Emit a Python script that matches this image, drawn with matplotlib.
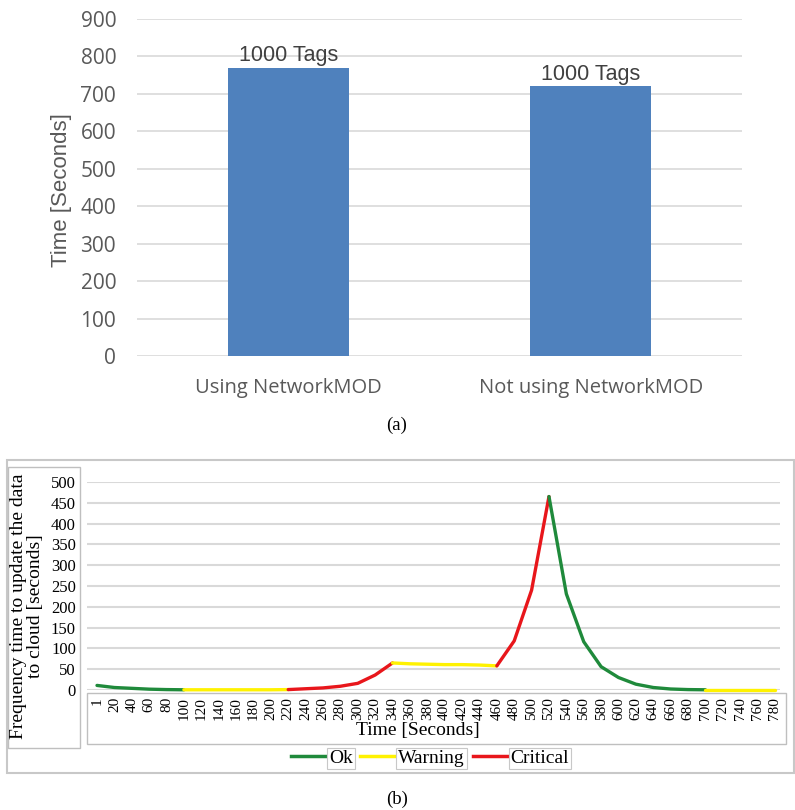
import matplotlib
matplotlib.use("Agg")
import matplotlib.pyplot as plt
from matplotlib.patches import Rectangle
from matplotlib.lines import Line2D

# (a) upload time for 1000 tags
bar_cats = ["Using NetworkMOD", "Not using NetworkMOD"]
bar_times = [770, 720]
bar_notes = ["1000 Tags", "1000 Tags"]

# (b) frequency time to update the data to cloud
seconds = [1, 20, 40, 60, 80, 100, 120, 140, 160, 180, 200, 220, 240, 260,
           280, 300, 320, 340, 360, 380, 400, 420, 440, 460, 480, 500, 520,
           540, 560, 580, 600, 620, 640, 660, 680, 700, 720, 740, 760, 780]
freq = [11, 6, 4, 2, 1, 0.5, 0.5, 0.5, 0.5, 0.5, 0.5, 1, 3, 5,
        9, 16, 36, 65, 63, 62, 61, 61, 60, 58, 118, 240, 465,
        231, 116, 56, 30, 14, 6, 2.4, 1, 0.5, 0.5, 0.5, 0.5, 0.5]

# status runs along the curve (start / end in seconds)
run_status = ["Ok", "Warning", "Critical", "Warning", "Critical", "Ok", "Warning"]
run_start = [1, 100, 220, 340, 460, 520, 700]
run_end = [100, 220, 340, 460, 520, 700, 780]
status_colors = {"Ok": "#1f8a3b", "Warning": "#fff200", "Critical": "#e8161b"}

W, H = 795, 810
SERIF = ["Liberation Serif", "DejaVu Serif"]
GRAY = "#595959"


def fbox(x0, y0, x1, y1):
    return [x0 / W, 1 - y1 / H, (x1 - x0) / W, (y1 - y0) / H]


def frame(x0, y0, x1, y1, ec="#bfbfbf", lw=1.0):
    fig.add_artist(Rectangle((x0 / W, 1 - y1 / H), (x1 - x0) / W, (y1 - y0) / H,
                             transform=fig.transFigure, fill=False, ec=ec, lw=lw))


fig = plt.figure(figsize=(W / 100, H / 100), dpi=100)

# ---- top: bar chart ----
ax1 = fig.add_axes(fbox(137, 19, 742, 356))
pos = list(range(len(bar_cats)))
ax1.bar(pos, bar_times, width=0.4, color="#4f81bd", zorder=2)
for p, v, s in zip(pos, bar_times, bar_notes):
    ax1.text(p, v + 5, s, ha="center", va="bottom", fontsize=15.5,
             family="Liberation Sans", color="#404040")
ax1.set_xlim(-0.5, 1.5)
ax1.set_ylim(0, 900)
ax1.set_yticks(range(0, 901, 100))
ax1.set_xticks(pos)
ax1.set_xticklabels(bar_cats)
ax1.grid(axis="y", color="#d9d9d9", lw=1.2)
ax1.set_axisbelow(True)
for s in ax1.spines.values():
    s.set_visible(False)
ax1.tick_params(length=0, colors=GRAY)
ax1.tick_params(axis="y", pad=15)
ax1.tick_params(axis="x", pad=16)
for t in ax1.get_yticklabels():
    t.set_fontfamily("Open Sans")
    t.set_fontsize(15)
for t in ax1.get_xticklabels():
    t.set_fontfamily("Open Sans")
    t.set_fontsize(14.5)
fig.text(61 / W, 1 - 190 / H, "Time [Seconds]", rotation=90, ha="center",
         va="center", fontsize=16, family="Liberation Sans", color=GRAY)
fig.text(397 / W, 1 - 425 / H, "(a)", ha="center", va="center",
         fontsize=13.5, family=SERIF)

# ---- bottom: status curve ----
frame(7, 460, 794, 773, ec="#c8c8c8", lw=1.5)
frame(8, 467, 80, 748)
frame(87, 693, 786, 744)

ax2 = fig.add_axes(fbox(87, 482, 780, 690))
xs = list(range(len(seconds)))
for st, a, b in zip(run_status, run_start, run_end):
    i0, i1 = seconds.index(a), seconds.index(b)
    ax2.plot(xs[i0:i1 + 1], freq[i0:i1 + 1], color=status_colors[st],
             lw=2.4, clip_on=False, zorder=3, solid_capstyle="round")
ax2.set_xlim(-0.575, 39.29)
ax2.set_ylim(0, 500)
ax2.set_yticks(range(0, 501, 50))
ax2.set_xticks(xs)
ax2.set_xticklabels([str(s) for s in seconds], rotation=90)
ax2.grid(axis="y", color="#d9d9d9", lw=1.5)
ax2.set_axisbelow(True)
for s in ax2.spines.values():
    s.set_visible(False)
ax2.tick_params(length=0)
ax2.tick_params(axis="y", pad=8)
ax2.tick_params(axis="x", pad=5)
for t in ax2.get_yticklabels():
    t.set_fontfamily(SERIF)
    t.set_fontsize(12)
for t in ax2.get_xticklabels():
    t.set_fontfamily(SERIF)
    t.set_fontsize(11)

fig.text(418 / W, 1 - 731 / H, "Time [Seconds]", ha="center", va="center",
         fontsize=14, family=SERIF)
fig.text(27 / W, 1 - 606 / H, "Frequency time to update the data\nto cloud [seconds]",
         rotation=90, ha="center", va="center", multialignment="center",
         linespacing=1.0, fontsize=14, family=SERIF)

handles = [Line2D([], [], color=status_colors[k], lw=2.5) for k in ["Ok", "Warning", "Critical"]]
leg = fig.legend(handles, ["Ok", "Warning", "Critical"], loc="center",
                 bbox_to_anchor=(430 / W, 1 - 758 / H), ncol=3, frameon=False,
                 prop={"family": SERIF, "size": 14}, handlelength=1.85,
                 handletextpad=0.1, columnspacing=0.4)
for t in leg.get_texts():
    t.set_bbox(dict(boxstyle="square,pad=0.1", fc="white", ec="#c8c8c8", lw=0.8))

fig.text(397 / W, 1 - 799 / H, "(b)", ha="center", va="center",
         fontsize=13.5, family=SERIF)

fig.savefig("out.png", dpi=100)
